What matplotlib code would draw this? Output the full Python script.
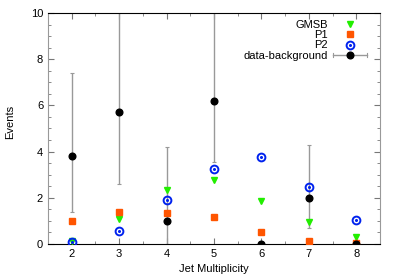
import matplotlib
matplotlib.use("Agg")
import matplotlib.pyplot as plt
from matplotlib.legend_handler import HandlerBase
from matplotlib.lines import Line2D
from matplotlib.ticker import MultipleLocator

plt.rcParams['font.family'] = ['Liberation Sans', 'DejaVu Sans']

jets = [2, 3, 4, 5, 6, 7, 8]
gmsb = [0.15, 1.1, 2.35, 2.75, 1.85, 0.95, 0.3]
p1 = [1.0, 1.4, 1.35, 1.15, 0.5, 0.15, 0.05]
p2 = [0.1, 0.55, 1.9, 3.25, 3.75, 2.45, 1.05]
data = [3.8, 5.7, 1.0, 6.2, 0.0, 2.0, 0.0]
data_lo = [1.4, 2.6, 0.0, 3.55, 0.0, 0.7, 0.0]
data_hi = [7.4, 11.0, 4.2, 11.0, 0.0, 4.3, 0.0]

fig = plt.figure(figsize=(4, 2.8), dpi=100)
ax = fig.add_axes([0.12, 0.1286, 0.83, 0.825])

err_lo = [d - l for d, l in zip(data, data_lo)]
err_hi = [h - d for d, h in zip(data, data_hi)]
ax.errorbar(jets, data, yerr=[err_lo, err_hi], fmt='none', ecolor='#999999',
            elinewidth=1.0, capsize=1.6, capthick=0.8, zorder=2)

hg, = ax.plot(jets, gmsb, linestyle='none', marker='v', markersize=5,
              color='#22ee00', markeredgecolor='#22ee00', zorder=3)
hp1, = ax.plot(jets, p1, linestyle='none', marker='s', markersize=4.6,
               color='#ff5500', markeredgecolor='#ff5500', zorder=3)
hp2, = ax.plot(jets, p2, linestyle='none', marker='o', markersize=5.6,
               markerfacecolor='none', markeredgecolor='#0022ee', markeredgewidth=1.4, zorder=4)
hp2d, = ax.plot(jets, p2, linestyle='none', marker='o', markersize=1.2,
                color='#0022ee', zorder=4)
hd, = ax.plot(jets, data, linestyle='none', marker='o', markersize=4.8,
              color='black', zorder=5)


class ErrHandler(HandlerBase):
    def create_artists(self, legend, orig_handle, xdescent, ydescent,
                       width, height, fontsize, trans):
        y = height / 2 - ydescent
        x0, x1 = -xdescent, width - xdescent
        line = Line2D([x0, x1], [y, y], color='#999999', lw=1.0, transform=trans)
        c1 = Line2D([x0, x0], [y - 1.6, y + 1.6], color='#999999', lw=0.8, transform=trans)
        c2 = Line2D([x1, x1], [y - 1.6, y + 1.6], color='#999999', lw=0.8, transform=trans)
        dot = Line2D([(x0 + x1) / 2], [y], marker='o', markersize=4.8, color='black',
                     linestyle='none', transform=trans)
        return [line, c1, c2, dot]


class DataProxy:
    pass


leg = ax.legend([hg, hp1, (hp2, hp2d), DataProxy()],
                ['GMSB', 'P1', 'P2', 'data-background'],
                handler_map={DataProxy: ErrHandler()},
                loc='upper right', bbox_to_anchor=(0.9614, 0.9706),
                markerfirst=False, frameon=False, fontsize=8,
                handlelength=3.1, handletextpad=0.45, labelspacing=0.03,
                borderaxespad=0.0, borderpad=0.0)

ax.set_xlim(1.5, 8.5)
ax.set_ylim(0, 10)
ax.xaxis.set_major_locator(MultipleLocator(1))
ax.xaxis.set_minor_locator(MultipleLocator(0.5))
ax.yaxis.set_major_locator(MultipleLocator(2))
ax.yaxis.set_minor_locator(MultipleLocator(0.5))
ax.tick_params(which='both', direction='in', top=True, right=True,
               labelsize=8, color='#777777')
ax.tick_params(which='major', length=4, width=0.8)
ax.tick_params(which='minor', length=2, width=0.6)
ax.spines['top'].set_color('black')
ax.spines['bottom'].set_color('black')
ax.spines['left'].set_color('#999999')
ax.spines['right'].set_color('#999999')

ax.set_xlabel('Jet Multiplicity', fontsize=8, labelpad=4)
ax.set_ylabel('Events', fontsize=8)
ax.yaxis.set_label_coords(-0.10, 0.53)

fig.savefig('out.png', dpi=100)
